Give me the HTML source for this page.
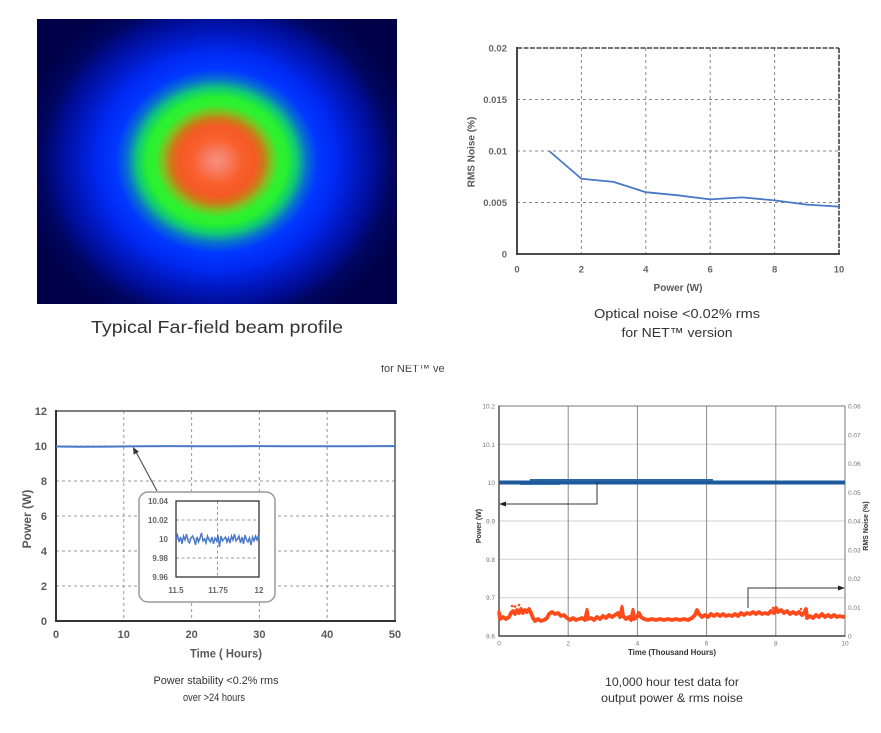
<!DOCTYPE html>
<html><head><meta charset="utf-8"><style>
html,body{margin:0;padding:0;background:#fff;}
svg{display:block;}
text{font-family:"Liberation Sans",sans-serif;}
</style></head><body>
<svg width="881" height="733" viewBox="0 0 881 733" xmlns="http://www.w3.org/2000/svg">
<defs>
<radialGradient id="beam" gradientUnits="userSpaceOnUse" cx="217" cy="161" r="200" gradientTransform="translate(217 161) scale(1 0.91) translate(-217 -161)">
<stop offset="0" stop-color="#f89080"/>
<stop offset="0.06" stop-color="#f77a60"/>
<stop offset="0.125" stop-color="#f8602e"/>
<stop offset="0.19" stop-color="#f55a25"/>
<stop offset="0.23" stop-color="#d07818"/>
<stop offset="0.27" stop-color="#80c020"/>
<stop offset="0.31" stop-color="#30f030"/>
<stop offset="0.35" stop-color="#28f030"/>
<stop offset="0.40" stop-color="#10c878"/>
<stop offset="0.45" stop-color="#0870d0"/>
<stop offset="0.505" stop-color="#0038ff"/>
<stop offset="0.60" stop-color="#0028f0"/>
<stop offset="0.70" stop-color="#0018c0"/>
<stop offset="0.80" stop-color="#000c90"/>
<stop offset="0.875" stop-color="#000660"/>
<stop offset="1" stop-color="#000048"/>
</radialGradient>
<clipPath id="midclip"><rect x="370" y="365" width="100" height="9"/></clipPath>
</defs>

<!-- Beam profile -->
<rect x="37" y="19" width="360" height="285" fill="url(#beam)"/>
<text x="217" y="333" font-size="17.5" fill="#333" text-anchor="middle" textLength="252" lengthAdjust="spacingAndGlyphs">Typical Far-field beam profile</text>

<!-- Top-right chart -->
<g stroke="#888" stroke-width="1" stroke-dasharray="3,3" fill="none">
<line x1="581.4" y1="48" x2="581.4" y2="254"/>
<line x1="645.8" y1="48" x2="645.8" y2="254"/>
<line x1="710.2" y1="48" x2="710.2" y2="254"/>
<line x1="774.6" y1="48" x2="774.6" y2="254"/>
<line x1="517" y1="99.5" x2="839" y2="99.5"/>
<line x1="517" y1="151" x2="839" y2="151"/>
<line x1="517" y1="202.5" x2="839" y2="202.5"/>
</g>
<line x1="517" y1="48" x2="839" y2="48" stroke="#444" stroke-width="1.6" stroke-dasharray="5,1.5"/>
<line x1="839" y1="48" x2="839" y2="254" stroke="#444" stroke-width="1.6" stroke-dasharray="5,1.5"/>
<line x1="517" y1="47" x2="517" y2="255" stroke="#333" stroke-width="1.8"/>
<line x1="516" y1="254" x2="840" y2="254" stroke="#333" stroke-width="1.8"/>
<polyline fill="none" stroke="#4a78c8" stroke-width="1.8" points="549.2,151 581.4,178.8 613.6,181.9 645.8,192.2 678,195.3 710.2,199.4 742.4,197.4 774.6,200.4 806.8,204.6 839,206.6"/>
<g font-size="9.5" font-weight="bold" fill="#666" text-anchor="end">
<text x="507" y="51.5">0.02</text>
<text x="507" y="103">0.015</text>
<text x="507" y="154.5">0.01</text>
<text x="507" y="206">0.005</text>
<text x="507" y="257.5">0</text>
</g>
<g font-size="9.5" font-weight="bold" fill="#666" text-anchor="middle">
<text x="517" y="272.5">0</text>
<text x="581.4" y="272.5">2</text>
<text x="645.8" y="272.5">4</text>
<text x="710.2" y="272.5">6</text>
<text x="774.6" y="272.5">8</text>
<text x="839" y="272.5">10</text>
</g>
<text x="678" y="291" font-size="10" font-weight="bold" fill="#595959" text-anchor="middle">Power (W)</text>
<text transform="translate(474.5 152) rotate(-90)" font-size="10" font-weight="bold" fill="#595959" text-anchor="middle">RMS Noise (%)</text>
<text x="677" y="318" font-size="13" fill="#333" text-anchor="middle" textLength="166" lengthAdjust="spacingAndGlyphs">Optical noise &lt;0.02% rms</text>
<text x="677" y="337" font-size="13" fill="#333" text-anchor="middle" textLength="111" lengthAdjust="spacingAndGlyphs">for NET™ version</text>

<!-- middle clipped text -->
<g clip-path="url(#midclip)">
<text x="381" y="372" font-size="11" fill="#444">for NET™ ve</text>
</g>

<!-- Bottom-left chart -->
<g stroke="#999" stroke-width="1" stroke-dasharray="3,3" fill="none">
<line x1="123.8" y1="411" x2="123.8" y2="621"/>
<line x1="191.6" y1="411" x2="191.6" y2="621"/>
<line x1="259.4" y1="411" x2="259.4" y2="621"/>
<line x1="327.2" y1="411" x2="327.2" y2="621"/>
<line x1="56" y1="586" x2="395" y2="586"/>
<line x1="56" y1="551" x2="395" y2="551"/>
<line x1="56" y1="516" x2="395" y2="516"/>
<line x1="56" y1="481" x2="395" y2="481"/>
<line x1="56" y1="446" x2="395" y2="446"/>
</g>
<rect x="56" y="411" width="339" height="210" fill="none" stroke="#555" stroke-width="1.5"/>
<line x1="56" y1="410" x2="56" y2="622" stroke="#333" stroke-width="2"/>
<line x1="55" y1="621" x2="396" y2="621" stroke="#333" stroke-width="2"/>
<polyline fill="none" stroke="#4a78c8" stroke-width="2" points="56,446.5 80,446.8 110,446.6 140,446.2 170,446.1 200,446.3 230,446.2 260,446.1 290,446.2 320,446.3 350,446.2 395,446.1"/>
<g font-size="11" font-weight="bold" fill="#595959" text-anchor="end">
<text x="47" y="415">12</text>
<text x="47" y="450">10</text>
<text x="47" y="485">8</text>
<text x="47" y="520">6</text>
<text x="47" y="555">4</text>
<text x="47" y="590">2</text>
<text x="47" y="625">0</text>
</g>
<g font-size="11" font-weight="bold" fill="#595959" text-anchor="middle">
<text x="56" y="638">0</text>
<text x="123.8" y="638">10</text>
<text x="191.6" y="638">20</text>
<text x="259.4" y="638">30</text>
<text x="327.2" y="638">40</text>
<text x="395" y="638">50</text>
</g>
<text x="226" y="657.5" font-size="12" font-weight="bold" fill="#595959" text-anchor="middle" textLength="72" lengthAdjust="spacingAndGlyphs">Time ( Hours)</text>
<text transform="translate(31 519) rotate(-90)" font-size="12" font-weight="bold" fill="#595959" text-anchor="middle">Power (W)</text>
<text x="216" y="684" font-size="11" fill="#333" text-anchor="middle" textLength="125" lengthAdjust="spacingAndGlyphs">Power stability &lt;0.2% rms</text>
<text x="214" y="701" font-size="11" fill="#333" text-anchor="middle" textLength="62" lengthAdjust="spacingAndGlyphs">over &gt;24 hours</text>
<!-- arrow -->
<line x1="157" y1="491" x2="136" y2="452" stroke="#555" stroke-width="1.2"/>
<polygon points="133,447 138.9,451.8 133.7,454.6" fill="#333"/>
<!-- inset -->
<rect x="139" y="492" width="136" height="110" rx="9" ry="9" fill="#fff" stroke="#999" stroke-width="1.5"/>
<g stroke="#999" stroke-width="1" stroke-dasharray="3,2.5" fill="none">
<line x1="217.5" y1="501" x2="217.5" y2="577"/>
<line x1="176" y1="520" x2="259" y2="520"/>
<line x1="176" y1="539" x2="259" y2="539"/>
<line x1="176" y1="558" x2="259" y2="558"/>
</g>
<rect x="176" y="501" width="83" height="76" fill="none" stroke="#222" stroke-width="1.2"/>
<polyline fill="none" stroke="#4a78c8" stroke-width="1.4" points="176,539 177.5,535 179,542 180.5,537 182,544 183.5,536 185,540 186.5,534 188,541 189.5,543 191,538 192.5,536 194,539 195.5,545 197,537 198.5,542 200,538 201.5,533 203,541 204.5,539 206,543 207.5,536 209,540 210.5,542 212,537 213.5,544 215,538 216.5,541 218,535 219.5,547 221,536 222.5,541 224,539 225.5,537 227,542 228.5,538 230,543 231.5,536 233,540 234.5,534 236,541 237.5,539 239,536 240.5,543 242,537 243.5,544 245,535 246.5,540 248,542 249.5,538 251,545 252.5,537 254,541 255.5,536 257,540 258.5,535 259,539"/>
<g font-size="8" font-weight="bold" fill="#666" text-anchor="end">
<text x="168" y="504">10.04</text>
<text x="168" y="523">10.02</text>
<text x="168" y="542">10</text>
<text x="168" y="561">9.98</text>
<text x="168" y="580">9.96</text>
</g>
<g font-size="8" font-weight="bold" fill="#666" text-anchor="middle">
<text x="176" y="593">11.5</text>
<text x="218" y="593">11.75</text>
<text x="259" y="593">12</text>
</g>

<!-- Bottom-right chart -->
<g stroke="#d0d0d0" stroke-width="1" fill="none">
<line x1="499" y1="444.3" x2="845" y2="444.3"/>
<line x1="499" y1="482.7" x2="845" y2="482.7"/>
<line x1="499" y1="521" x2="845" y2="521"/>
<line x1="499" y1="559.3" x2="845" y2="559.3"/>
<line x1="499" y1="597.7" x2="845" y2="597.7"/>
</g>
<g stroke="#8a8a8a" stroke-width="1" fill="none">
<line x1="568.2" y1="406" x2="568.2" y2="636"/>
<line x1="637.4" y1="406" x2="637.4" y2="636"/>
<line x1="706.6" y1="406" x2="706.6" y2="636"/>
<line x1="775.8" y1="406" x2="775.8" y2="636"/>
</g>
<rect x="499" y="406" width="346" height="230" fill="none" stroke="#777" stroke-width="1"/>
<line x1="499" y1="405.5" x2="499" y2="636.5" stroke="#444" stroke-width="1.4"/>
<line x1="498.5" y1="636" x2="845.5" y2="636" stroke="#444" stroke-width="1.4"/>
<!-- blue power -->
<rect x="499" y="480.5" width="346" height="4" fill="#1c5a9c"/>
<rect x="530" y="479" width="183" height="2" fill="#2a65a5"/>
<rect x="520" y="484" width="40" height="1" fill="#3a75b5"/>
<!-- red noise -->
<polyline fill="none" stroke="#ff4a1a" stroke-width="3.8" stroke-linejoin="round" points="499,612 500,619 503,617 506,619 509,617 511,613 513,611 515,614 517,610 519,613 521,609 523,613 525,610 527,612 529,609 531,613 533,618 535,621 538,619 541,621 544,620 547,618 549,614 552,612 555,614 558,613 561,616 564,615 567,618 570,620 573,618 576,620 579,619 582,618 585,620 587,611 588,619 591,618 594,620 597,617 600,619 603,616 606,618 609,615 612,617 615,615 618,613 620,617 622,608 623,616 626,619 629,617 631,620 633,611 634,619 637,617 639,613 641,617 644,619 648,620 652,619 656,620 660,619 664,620 668,619 672,620 676,619 680,620 684,619 688,620 692,618 695,615 697,610 699,614 702,617 705,615 708,617 711,614 714,616 717,614 720,616 723,614 726,616 729,615 732,616 735,614 738,616 741,613 744,615 747,613 750,614 753,612 756,614 759,612 762,614 765,613 768,614 771,611 774,613 776,608 778,612 781,610 784,613 787,611 790,614 793,612 796,614 799,612 802,615 804,613 806,609 807,618 810,616 813,618 816,615 819,617 822,614 825,617 828,615 831,617 834,615 837,617 840,616 843,617 845,616"/>
<g fill="#ff4a1a">
<circle cx="512" cy="606" r="1.3"/><circle cx="515" cy="606.5" r="1.3"/><circle cx="519" cy="605" r="1.3"/>
<circle cx="587" cy="609" r="1.3"/><circle cx="622" cy="606" r="1.3"/><circle cx="633" cy="609" r="1.3"/>
<circle cx="773" cy="608" r="1.3"/><circle cx="801" cy="609" r="1.3"/><circle cx="499" cy="611" r="1.3"/>
</g>
<!-- arrows -->
<polyline fill="none" stroke="#333" stroke-width="1" points="597,482 597,504 504,504"/>
<polygon points="499,504 506,501.5 506,506.5" fill="#222"/>
<polyline fill="none" stroke="#333" stroke-width="1" points="748,608 748,588 840,588"/>
<polygon points="845,588 838,585.5 838,590.5" fill="#222"/>
<g font-size="6.5" fill="#777" text-anchor="end">
<text x="495" y="408.5">10.2</text>
<text x="495" y="446.8">10.1</text>
<text x="495" y="485.2">10</text>
<text x="495" y="523.5">9.9</text>
<text x="495" y="561.8">9.8</text>
<text x="495" y="600.2">9.7</text>
<text x="495" y="638.5">9.6</text>
</g>
<g font-size="6.5" fill="#777">
<text x="848" y="408.5">0.08</text>
<text x="848" y="437.3">0.07</text>
<text x="848" y="466">0.06</text>
<text x="848" y="494.8">0.05</text>
<text x="848" y="523.5">0.04</text>
<text x="848" y="552.3">0.03</text>
<text x="848" y="581">0.02</text>
<text x="848" y="609.8">0.01</text>
<text x="848" y="638.5">0</text>
</g>
<g font-size="6.5" fill="#777" text-anchor="middle">
<text x="499" y="645.5">0</text>
<text x="568.2" y="645.5">2</text>
<text x="637.4" y="645.5">4</text>
<text x="706.6" y="645.5">6</text>
<text x="775.8" y="645.5">8</text>
<text x="845" y="645.5">10</text>
</g>
<text x="672" y="655" font-size="8" font-weight="bold" fill="#333" text-anchor="middle" textLength="88" lengthAdjust="spacingAndGlyphs">Time (Thousand Hours)</text>
<text transform="translate(481 526) rotate(-90)" font-size="7" font-weight="bold" fill="#333" text-anchor="middle">Power (W)</text>
<text transform="translate(868 526) rotate(-90)" font-size="7" font-weight="bold" fill="#333" text-anchor="middle">RMS Noise (%)</text>
<text x="672" y="686" font-size="12" fill="#333" text-anchor="middle" textLength="134" lengthAdjust="spacingAndGlyphs">10,000 hour test data for</text>
<text x="672" y="702" font-size="12" fill="#333" text-anchor="middle" textLength="142" lengthAdjust="spacingAndGlyphs">output power &amp; rms noise</text>
</svg>
</body></html>
